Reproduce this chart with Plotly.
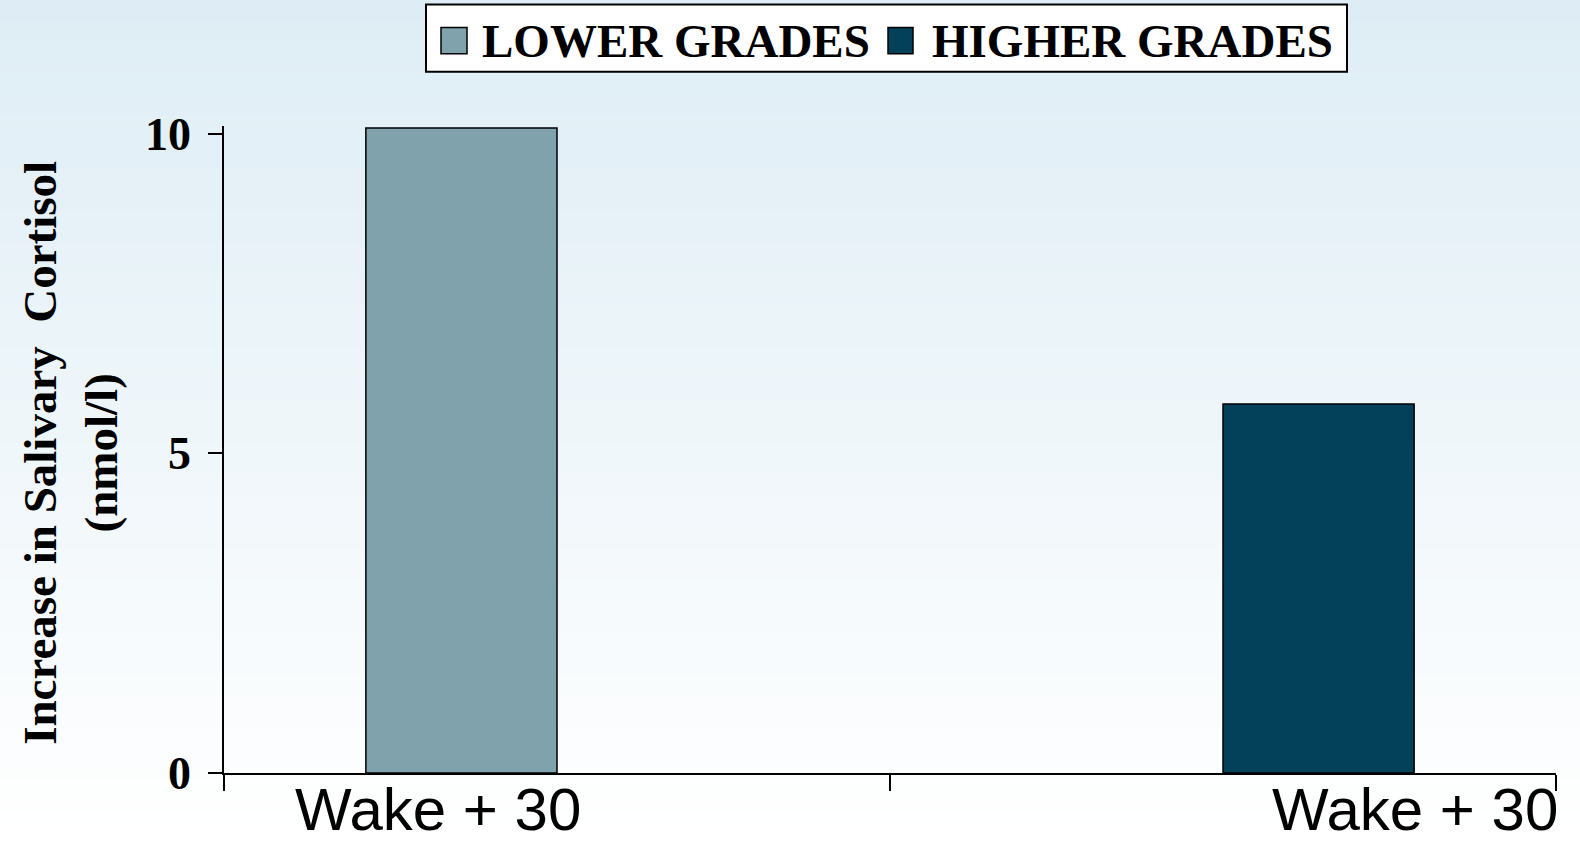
import plotly.graph_objects as go

# ---- data ----
categories = ["Wake + 30", "Wake + 30"]
lower_grades = [10.09, None]
higher_grades = [None, 5.77]
series_names = ["LOWER GRADES", "HIGHER GRADES"]
series_colors = ["#7fa2ac", "#024159"]
y_ticks = [0, 5, 10]

Y_MAX = 10.12
W, H = 1580, 844
ML, MR, MB = 224, 24, 71
UNIT = 63.9  # pixels per y unit
MT = H - MB - UNIT * Y_MAX
PW, PH = W - ML - MR, H - MT - MB


def px2x(px):
    return (px - ML) / PW


def py2y(py):
    return (H - MB - py) / PH


x_pos = list(range(len(categories)))

fig = go.Figure()
for name, vals, col in zip(series_names, [lower_grades, higher_grades], series_colors):
    fig.add_trace(go.Bar(
        x=x_pos, y=vals, name=name, marker=dict(color=col, line=dict(color="#000000", width=1.5)),
        showlegend=False,
    ))

shapes = []
# background gradient
top = (222, 237, 245)
bot = (255, 255, 255)
N = 80
for i in range(N):
    t = i / (N - 1)
    c = tuple(round(top[k] + (bot[k] - top[k]) * t) for k in range(3))
    y0 = H * i / N
    y1 = H * (i + 1) / N + 1
    shapes.append(dict(type="rect", xref="paper", yref="paper", layer="below",
                       x0=px2x(0), x1=px2x(W), y0=py2y(y1), y1=py2y(y0),
                       fillcolor="rgb(%d,%d,%d)" % c, line=dict(width=0)))

# legend box
shapes.append(dict(type="rect", xref="paper", yref="paper", layer="above",
                   x0=px2x(426), x1=px2x(1347), y0=py2y(72), y1=py2y(5),
                   fillcolor="#ffffff", line=dict(color="#000000", width=2)))
leg_sq = [(441, 467), (888, 913)]
leg_txt = [480, 930]
annotations = []
for (a, b), tx, name, col in zip(leg_sq, leg_txt, series_names, series_colors):
    shapes.append(dict(type="rect", xref="paper", yref="paper", layer="above",
                       x0=px2x(a), x1=px2x(b), y0=py2y(54), y1=py2y(28),
                       fillcolor=col, line=dict(color="#000000", width=1.5)))
    annotations.append(dict(text="<b>%s</b>" % name, xref="paper", yref="paper",
                            x=px2x(tx), y=py2y(41), xanchor="left", yanchor="middle",
                            showarrow=False,
                            font=dict(family="Liberation Serif, Times New Roman, serif", size=47, color="#000000")))

# category labels
label_x = [-0.179, 1.288]
for lx, cat in zip(label_x, categories):
    annotations.append(dict(text=cat, xref="x", yref="paper", x=lx, y=py2y(809),
                            xanchor="center", yanchor="middle", showarrow=False,
                            font=dict(family="Liberation Sans, Arial, sans-serif", size=60, color="#000000")))

# y axis title
annotations.append(dict(text="<b>Increase in Salivary  Cortisol<br>(nmol/l)</b>", xref="paper", yref="paper",
                        x=px2x(71), y=py2y(453), xanchor="center", yanchor="middle",
                        textangle=-90, showarrow=False,
                        font=dict(family="Liberation Serif, Times New Roman, serif", size=47, color="#000000")))

fig.update_layout(
    width=W, height=H,
    margin=dict(l=ML, r=MR, t=MT, b=MB, pad=0),
    paper_bgcolor="#ffffff", plot_bgcolor="rgba(0,0,0,0)",
    barmode="group", bargap=0.426, bargroupgap=0,
    shapes=shapes, annotations=annotations,
    showlegend=False,
    xaxis=dict(range=[-0.5, 1.5], tickvals=[-0.5, 0.5, 1.5], ticktext=["", "", ""],
               ticks="outside", ticklen=16, tickwidth=1.5, tickcolor="#000000",
               showline=True, linecolor="#000000", linewidth=1.5,
               showgrid=False, zeroline=False, fixedrange=True),
    yaxis=dict(range=[0, Y_MAX], tickvals=y_ticks, ticktext=["<b>%d</b>" % v for v in y_ticks],
               ticks="outside", ticklen=14, tickwidth=1.5, tickcolor="#000000",
               showline=True, linecolor="#000000", linewidth=1.5,
               showgrid=False, zeroline=False, ticklabelstandoff=8,
               tickfont=dict(family="Liberation Serif, Times New Roman, serif", size=46, color="#000000")),
)

fig.write_html("out.html", config={"displayModeBar": False},
               post_script="document.body.style.margin='0';document.body.style.overflow='hidden';")
